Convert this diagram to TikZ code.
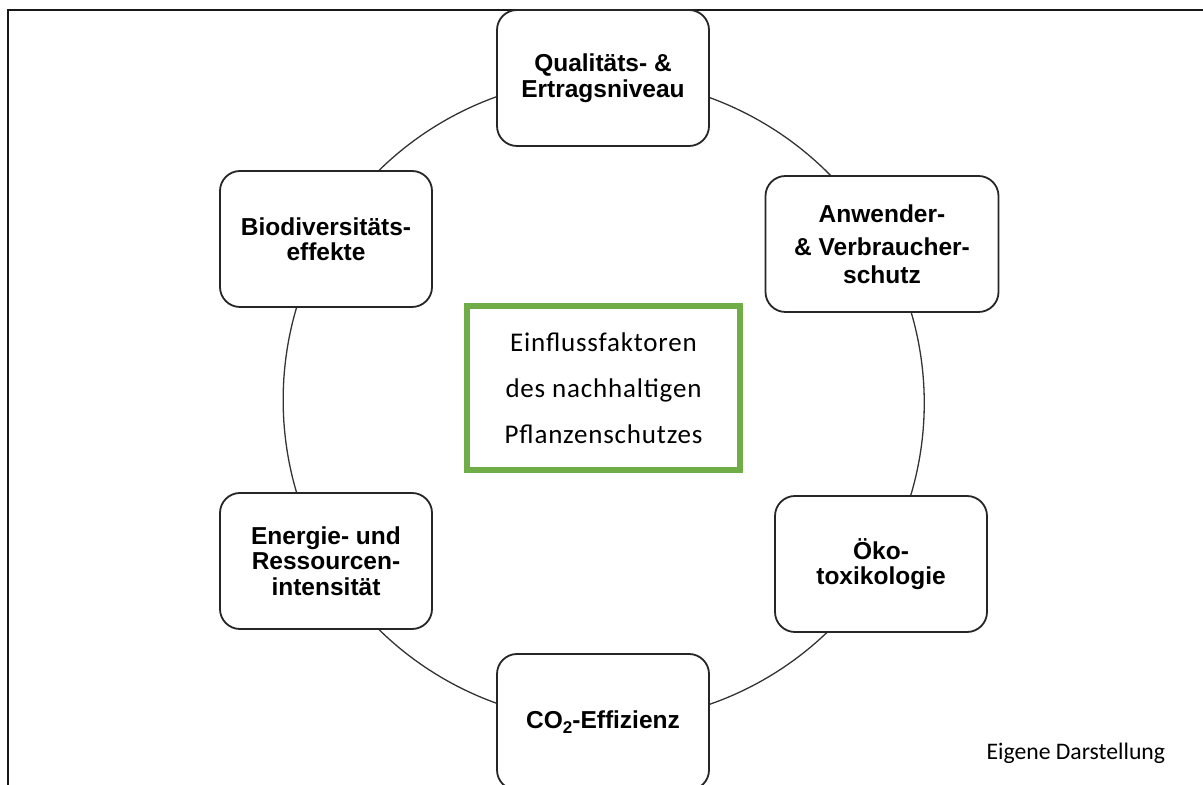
\documentclass[tikz,border=0pt]{standalone}
\usepackage{fontspec}
\setmainfont{Liberation Sans}
\newfontfamily\carlito{Carlito}
\usetikzlibrary{backgrounds}

\definecolor{kerngruen}{RGB}{112,173,71}

\tikzset{
  factor/.style={draw=black!85, line width=1.8pt, fill=white, rounded corners=20pt,
    minimum width=212pt, minimum height=136pt, align=center,
    font=\bfseries\fontsize{24.5}{25.5}\selectfont},
  core/.style={draw=kerngruen, line width=6pt, fill=white,
    minimum width=273pt, minimum height=164pt, align=center,
    font=\carlito\addfontfeatures{LetterSpace=3}\fontsize{27}{46}\selectfont},
  ring/.style={draw=black!80, line width=1.3pt, bend left=30, looseness=0.91},
  frame/.style={draw=black!90, line width=2pt}
}

\begin{document}
\begin{tikzpicture}[x=1pt, y=1pt]
  \useasboundingbox (0,0) rectangle (1203,785);
  \clip (0,0) rectangle (1203,785);

  % Rahmen
  \draw[frame] (8,-5) -- (8,775) -- (1210,775);

  % Einflussfaktoren im Kreis
  \node[factor] (qual) at (603,707) {Qualitäts- \&\\Ertragsniveau};
  \node[factor, minimum width=233pt] (anw) at (882,541) {Anwender-\\[8pt]\& Verbraucher-\\[2pt]schutz};
  \node[factor] (oeko) at (881,221) {Öko-\\toxikologie};
  \node[factor] (co2) at (603,63) {CO\raisebox{-5pt}{\fontsize{17}{17}\selectfont 2}-Effizienz};
  \node[factor] (energie) at (326,224) {Energie- und\\Ressourcen-\\intensität};
  \node[factor] (bio) at (326,546) {Biodiversitäts-\\effekte};

  \node[core] (kern) at (603.5,397) {Einflussfaktoren\\des nachhaltigen\\Pflanzenschutzes};

  \node[anchor=base west, font=\carlito\fontsize{23.7}{28}\selectfont] (quelle) at (983,25) {Eigene Darstellung};

  \begin{pgfonlayer}{background}
    \draw[ring] (qual.center) to (anw.center);
    \draw[ring] (anw.center) to (oeko.center);
    \draw[ring] (oeko.center) to (co2.center);
    \draw[ring] (co2.center) to (energie.center);
    \draw[ring] (energie.center) to (bio.center);
    \draw[ring] (bio.center) to (qual.center);
  \end{pgfonlayer}
\end{tikzpicture}
\end{document}
